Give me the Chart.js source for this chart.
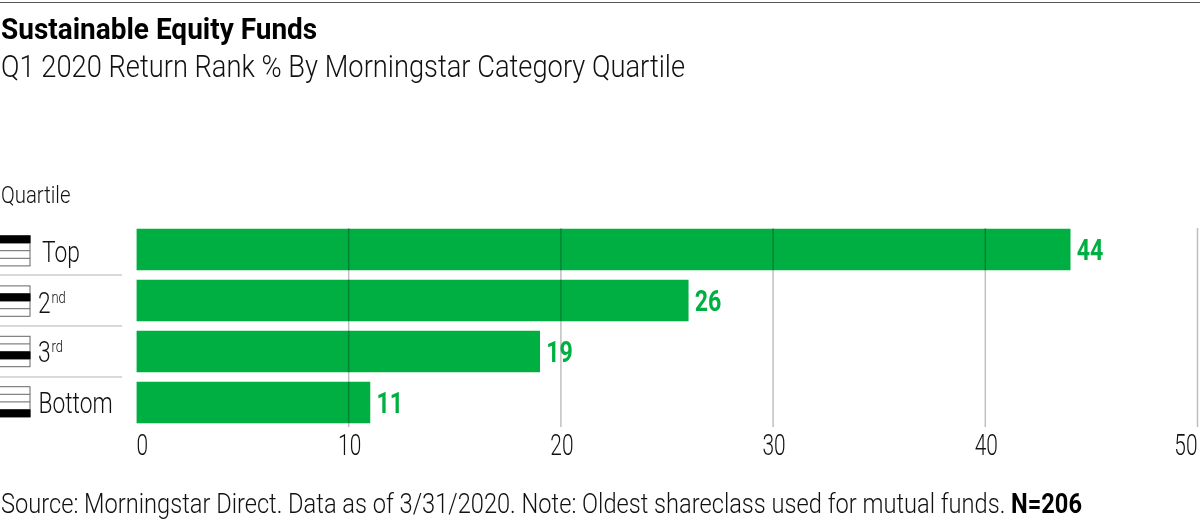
<!DOCTYPE html>
<html>
<head>
<meta charset="utf-8">
<script src="https://cdn.jsdelivr.net/npm/chart.js"></script>
<style>
  html, body { margin: 0; padding: 0; background: #fff; }
  #wrap { position: relative; width: 1200px; height: 527px; overflow: hidden; font-family: Roboto, sans-serif; font-weight: 300; color: #111; }
  #wrap div { position: absolute; left: 1px; white-space: nowrap; transform-origin: 0 0; }
  #rule { left: 0 !important; top: 2px; width: 1200px; height: 1px; background: #555; }
  #title { top: 11px; font-size: 30px; font-weight: 700; color: #000; }
  #subtitle { top: 48px; font-size: 31px; }
  #axisname { top: 182px; font-size: 23px; }
  #source { top: 488px; font-size: 27px; }
  #source b { color: #000; font-weight: 700; }
  canvas { position: absolute; left: 0; top: 0; }
</style>
</head>
<body>
<div id="wrap">
  <canvas id="chart" width="1200" height="527"></canvas>
  <div id="rule"></div>
  <div id="title">Sustainable Equity Funds</div>
  <div id="subtitle">Q1 2020 Return Rank % By Morningstar Category Quartile</div>
  <div id="axisname">Quartile</div>
  <div id="source">Source: Morningstar Direct. Data as of 3/31/2020. Note: Oldest shareclass used for mutual funds. <b>N=206</b></div>
</div>
<script>
const quartiles = ['Top', '2', '3', 'Bottom'];
const suffixes = ['', 'nd', 'rd', ''];
const values = [44, 26, 19, 11];
const xTicks = [0, 10, 20, 30, 40, 50];

const GREEN = '#00AF41';

// no condensed face is installed, so squeeze Roboto horizontally
function squeeze(id, width) {
  const el = document.getElementById(id);
  el.style.transform = 'scaleX(' + width / el.offsetWidth + ')';
}
squeeze('title', 316);
squeeze('subtitle', 684);
squeeze('axisname', 69);
squeeze('source', 1081);

function text(ctx, str, x, y, sx, align) {
  ctx.save();
  ctx.translate(x, y);
  ctx.scale(sx, 1);
  ctx.textAlign = align || 'left';
  ctx.fillText(str, 0, 0);
  ctx.restore();
}

// gridlines sit over the bars and stop short of the plot band
const gridOverBars = {
  id: 'gridOverBars',
  afterDatasetsDraw(chart) {
    const ctx = chart.ctx, x = chart.scales.x;
    ctx.save();
    ctx.strokeStyle = 'rgba(0,0,0,0.25)';
    ctx.lineWidth = 1.5;
    xTicks.slice(1).forEach(v => {
      const px = x.getPixelForValue(v);
      ctx.beginPath();
      ctx.moveTo(px, 228);
      ctx.lineTo(px, 427);
      ctx.stroke();
    });
    ctx.restore();
  }
};

const valueLabels = {
  id: 'valueLabels',
  afterDatasetsDraw(chart) {
    const ctx = chart.ctx;
    ctx.save();
    ctx.fillStyle = GREEN;
    ctx.font = '700 29px Roboto';
    ctx.textBaseline = 'alphabetic';
    chart.getDatasetMeta(0).data.forEach((bar, i) => {
      text(ctx, values[i], bar.x + 6.5, bar.y + 10, 0.8);
    });
    ctx.restore();
  }
};

const axisLabels = {
  id: 'axisLabels',
  afterDraw(chart) {
    const ctx = chart.ctx, x = chart.scales.x;
    ctx.save();
    ctx.fillStyle = '#111';
    ctx.font = '300 29px Roboto';
    xTicks.forEach((v, i) => {
      const align = i === 0 ? 'left' : i === xTicks.length - 1 ? 'right' : 'center';
      text(ctx, v, x.getPixelForValue(v) + (align === 'center' ? 1 : 0), 455, 0.72, align);
    });
    ctx.restore();
  }
};

// quartile box icon, separator and label for every row
const quartileLabels = {
  id: 'quartileLabels',
  afterDraw(chart) {
    const ctx = chart.ctx, y = chart.scales.y;
    const labelX = [42, 38, 38, 38.5], baseline = [12, 12, 10, 10];
    ctx.save();
    quartiles.forEach((q, i) => {
      const cy = y.getPixelForValue(i);
      const top = cy - 14 - 0.6 * i, rowH = 7.6;
      ctx.strokeStyle = '#666';
      ctx.lineWidth = 1;
      ctx.strokeRect(-1, top, 31, 30.4);
      for (let r = 1; r < 4; r++) {
        ctx.beginPath();
        ctx.moveTo(0, top + r * rowH);
        ctx.lineTo(30, top + r * rowH);
        ctx.stroke();
      }
      ctx.fillStyle = '#000';
      ctx.fillRect(0, top + i * rowH, 30.5, rowH);

      if (i > 0) {
        ctx.strokeStyle = '#ccc';
        ctx.lineWidth = 1.5;
        ctx.beginPath();
        ctx.moveTo(0, cy - 25.5);
        ctx.lineTo(122, cy - 25.5);
        ctx.stroke();
      }

      ctx.fillStyle = '#111';
      ctx.textBaseline = 'alphabetic';
      ctx.font = '300 30px Roboto';
      const sx = 0.76;
      text(ctx, q, labelX[i], cy + baseline[i], sx);
      if (suffixes[i]) {
        ctx.font = '300 17px Roboto';
        text(ctx, suffixes[i], labelX[i] + ctx.measureText(q).width + 4, cy + baseline[i] - 10, 0.76);
      }
    });
    ctx.restore();
  }
};

new Chart(document.getElementById('chart').getContext('2d'), {
  type: 'bar',
  data: {
    labels: quartiles,
    datasets: [{
      data: values,
      backgroundColor: GREEN,
      borderWidth: 0,
      barThickness: 41
    }]
  },
  options: {
    indexAxis: 'y',
    responsive: false,
    animation: false,
    layout: { padding: { left: 136.5, right: 2.5, top: 224, bottom: 0 } },
    plugins: { legend: { display: false }, tooltip: { enabled: false } },
    scales: {
      x: {
        min: 0,
        max: 50,
        afterBuildTicks(scale) { scale.ticks = xTicks.map(v => ({ value: v })); },
        afterFit(scale) { scale.height = 99; },
        grid: { display: false },
        border: { display: false },
        ticks: { display: false }
      },
      y: { display: false }
    }
  },
  plugins: [gridOverBars, valueLabels, axisLabels, quartileLabels]
});
</script>
</body>
</html>
